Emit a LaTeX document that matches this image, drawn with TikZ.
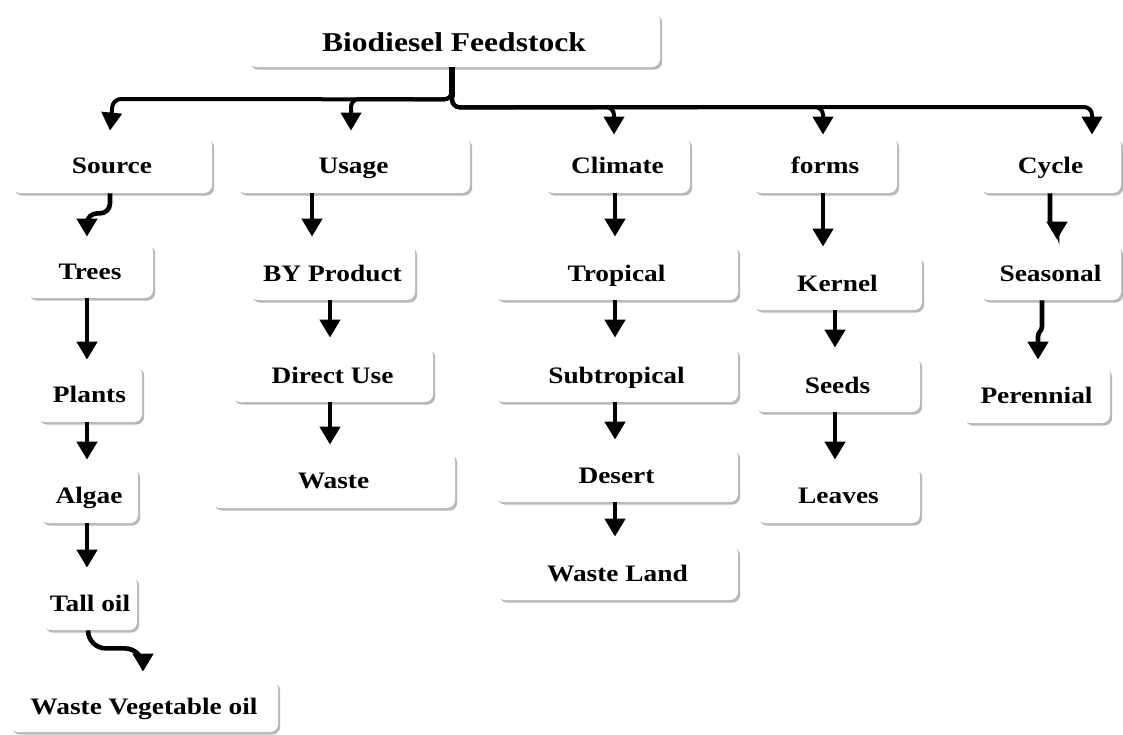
\documentclass[tikz,border=0pt]{standalone}
\usepackage{fontspec}
\setmainfont{Liberation Serif}[FakeStretch=1.16]
\usetikzlibrary{arrows.meta,shadows,calc}
\tikzset{
  bx/.style 2 args={rounded corners=4pt, fill=white, inner sep=0pt,
    minimum width={#1*0.5pt}, minimum height={#2*0.5pt},
    text height=9.7pt, text depth=0.9pt,
    font=\fontsize{11.8pt}{14pt}\selectfont\bfseries,
    drop shadow={shadow xshift=1.1pt, shadow yshift=-1.3pt, fill=black, opacity=0.28}},
  arr/.style={line width=2.3pt, -{Triangle[width=10pt,length=9pt]}},
  branch/.style={line width=2pt, rounded corners=4pt, -{Triangle[width=10pt,length=9pt]}},
  trunk/.style={line width=3pt}
}
\begin{document}
\begin{tikzpicture}[x=0.5pt,y=-0.5pt]
\useasboundingbox[fill=white] (0,0) rectangle (1123,734);
% boxes
\node[bx={412}{55}, text height=12pt, text depth=0.4pt, font=\fontsize{13.6pt}{16pt}\selectfont\bfseries] (top) at (454,39.5) {Biodiesel Feedstock};
\node[bx={200}{56}] (src) at (112,165) {Source};
\node[bx={233}{56}] (use) at (353.5,165) {Usage};
\node[bx={145}{56}] (cli) at (617.5,165) {Climate};
\node[bx={144}{56}] (frm) at (825,165) {forms};
\node[bx={141}{56}] (cyc) at (1050.5,165) {Cycle};
% source column
\node[bx={126}{55}] (tre) at (90,270.5) {Trees};
\node[bx={105}{57}] (pla) at (89.5,393.5) {Plants};
\node[bx={98}{56}] (alg) at (89,495) {Algae};
\node[bx={94}{55}] (tal) at (90,602.5) {Tall oil};
\node[bx={268}{52}] (wvo) at (144,706) {Waste Vegetable oil};
% usage column
\node[bx={165}{55}] (byp) at (332.5,272.5) {BY Product};
\node[bx={201}{55}] (dir) at (332.5,374.5) {Direct Use};
\node[bx={243}{56}] (was) at (333.5,480) {Waste};
% climate column
\node[bx={243}{55}] (tro) at (616.5,272.5) {Tropical};
\node[bx={243}{55}] (sub) at (616.5,374.5) {Subtropical};
\node[bx={243}{54}] (des) at (616.5,475) {Desert};
\node[bx={241}{55}] (wla) at (617.5,572.5) {Waste Land};
% forms column
\node[bx={169}{55}] (ker) at (837.5,282.5) {Kernel};
\node[bx={165}{55}] (see) at (837.5,384.5) {Seeds};
\node[bx={163}{56}] (lea) at (838.5,495) {Leaves};
% cycle column
\node[bx={141}{55}] (sea) at (1050.5,272.5) {Seasonal};
\node[bx={147}{56}] (per) at (1036.5,395) {Perennial};

% top branches
\coordinate (tb) at ($(top.south)+(-2,0)$);
\draw[trunk] (tb) -- ++(0,30);
\draw[branch] (tb) -- ++(0,32) -- (113,99) -- ($(src.north)+(-2,-6)$);
\draw[branch] (tb) -- ++(0,32) -- (351,99) -- ($(use.north)+(-2.5,-6)$);
\draw[branch] (tb) -- ++(0,40) -- (614,107) -- ($(cli.north)+(-3.5,-2)$);
\draw[branch] (tb) -- ++(0,40) -- (823,107) -- ($(frm.north)+(-2,-2)$);
\draw[branch] (tb) -- ++(0,40) -- (1092,107) -- ($(cyc.north)+(41.5,-2)$);

% source column
\draw[arr, rounded corners=5pt] ($(src.south)+(-2,0)$) -- ++(0,20) -- ++(-23,0) -- ($(tre.north)+(-3,-6)$);
\draw[arr] ($(tre.south)+(-3,0)$) -- ($(pla.north)+(-2.5,-5)$);
\draw[arr] ($(pla.south)+(-2.5,0)$) -- ($(alg.north)+(-2,-7)$);
\draw[arr] ($(alg.south)+(-2,0)$) -- ($(tal.north)+(-3,-7)$);
\draw[arr, rounded corners=9pt] ($(tal.south)+(-2,0)$) -- ++(0,18) -- ++(55,0) -- ($(wvo.north)+(-1,-8)$);

% usage column
\draw[arr] ($(use.south)+(-41.5,0)$) -- ($(byp.north)+(-20.5,-8)$);
\draw[arr] ($(byp.south)+(-2.5,0)$) -- ($(dir.north)+(-2.5,-9)$);
\draw[arr] ($(dir.south)+(-2.5,0)$) -- ($(was.north)+(-3.5,-7)$);

% climate column
\draw[arr] ($(cli.south)+(-2.5,0)$) -- ($(tro.north)+(-1.5,-8)$);
\draw[arr] ($(tro.south)+(-1.5,0)$) -- ($(sub.north)+(-1.5,-9)$);
\draw[arr] ($(sub.south)+(-1.5,0)$) -- ($(des.north)+(-1.5,-8)$);
\draw[arr] ($(des.south)+(-1.5,0)$) -- ($(wla.north)+(-2.5,-8)$);

% forms column
\draw[arr] ($(frm.south)+(-2,0)$) -- ($(ker.north)+(-14.5,-8)$);
\draw[arr] ($(ker.south)+(-2.5,0)$) -- ($(see.north)+(-2.5,-9)$);
\draw[arr] ($(see.south)+(-2.5,0)$) -- ($(lea.north)+(-3.5,-7)$);

% cycle column
\draw[arr] ($(cyc.south)+(-0.5,0)$) -- ++(0,28) .. controls +(0,5) and +(0,-5) .. ++(7,10) -- ($(sea.north)+(6.5,-5)$);
\draw[arr] ($(sea.south)+(-8.5,0)$) -- ++(0,26) .. controls +(0,5) and +(0,-5) .. ++(-4,10) -- ($(per.north)+(1.5,-7)$);
\end{tikzpicture}
\end{document}
